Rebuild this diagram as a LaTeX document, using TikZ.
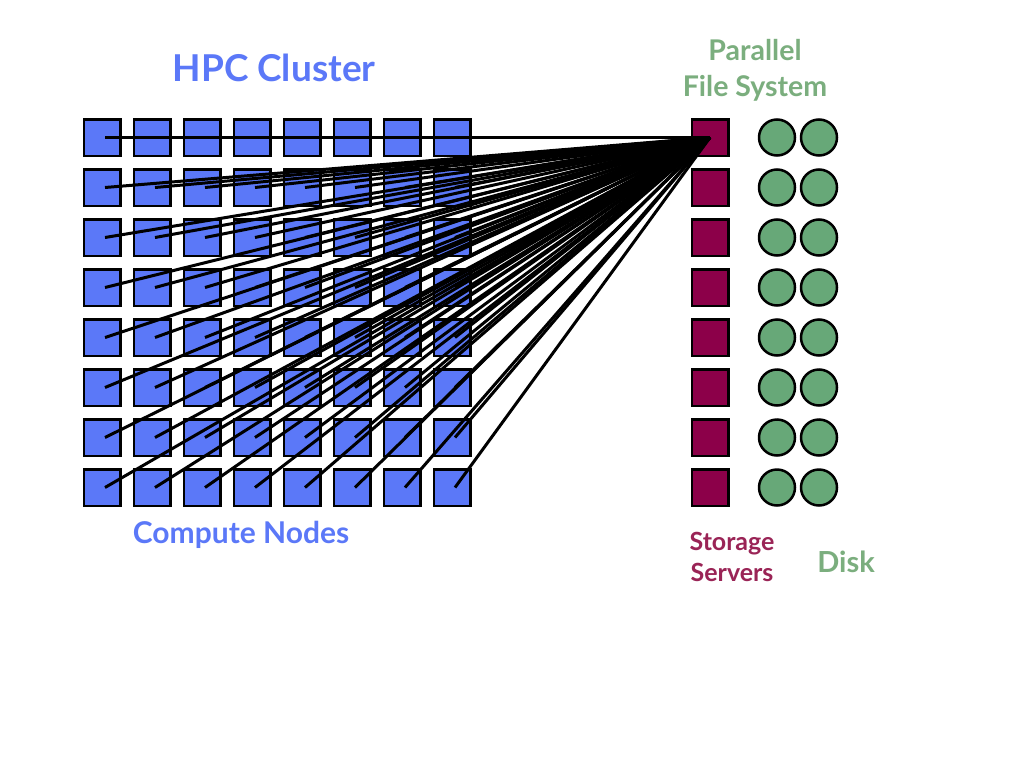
\documentclass[tikz,border=0pt]{standalone}
\usepackage{fontspec}
\setmainfont{Lato}
\definecolor{cblue}{HTML}{5B78F8}
\definecolor{cmaroon}{HTML}{8C0049}
\definecolor{cgreen}{HTML}{67A878}
\definecolor{tgreen}{HTML}{7BAE7E}
\definecolor{tmaroon}{HTML}{9A2456}
\begin{document}
\begin{tikzpicture}[x=1pt,y=-1pt,
  cnode/.style={draw=black,fill=cblue,line width=2.5pt,minimum size=36.5pt,inner sep=0pt},
  snode/.style={draw=black,fill=cmaroon,line width=2.5pt,minimum size=36.5pt,inner sep=0pt},
  dnode/.style={circle,draw=black,fill=cgreen,line width=2.5pt,minimum size=36pt,inner sep=0pt},
  link/.style={line width=3pt,black},
  lbl/.style={font=\bfseries,align=center,inner sep=0pt}]
\fill[white] (0,0) rectangle (1024,768);
\useasboundingbox (0,0) rectangle (1024,768);
\foreach \i in {0,...,7}{
  \foreach \j in {0,...,7}{
    \node[cnode] (c\i\j) at (102+50*\i,137.5+50*\j) {};
  }
  \node[snode] (s\i) at (710,137.5+50*\i) {};
  \node[dnode] (da\i) at (777,137.5+50*\i) {};
  \node[dnode] (db\i) at (819,137.5+50*\i) {};
}
\foreach \i in {0,...,7}{
  \foreach \j in {0,...,7}{
    \draw[link] ([xshift=3pt]c\i\j.center) -- (s0.center);
  }
}
\node[lbl,text=cblue,font=\fontsize{37}{40}\selectfont\bfseries] (t1) at (274,68) {HPC Cluster};
\node[lbl,text=tgreen,font=\fontsize{28.5}{36}\selectfont\bfseries] (t2) at (755,70) {Parallel\\File System};
\node[lbl,text=cblue,font=\fontsize{30}{32}\selectfont\bfseries] (t3) at (241,535) {Compute Nodes};
\node[lbl,text=tmaroon,font=\fontsize{25}{31}\selectfont\bfseries] (t4) at (732,557) {Storage\\Servers};
\node[lbl,text=tgreen,font=\fontsize{29}{32}\selectfont\bfseries] (t5) at (846,562) {Disk};
\end{tikzpicture}
\end{document}
